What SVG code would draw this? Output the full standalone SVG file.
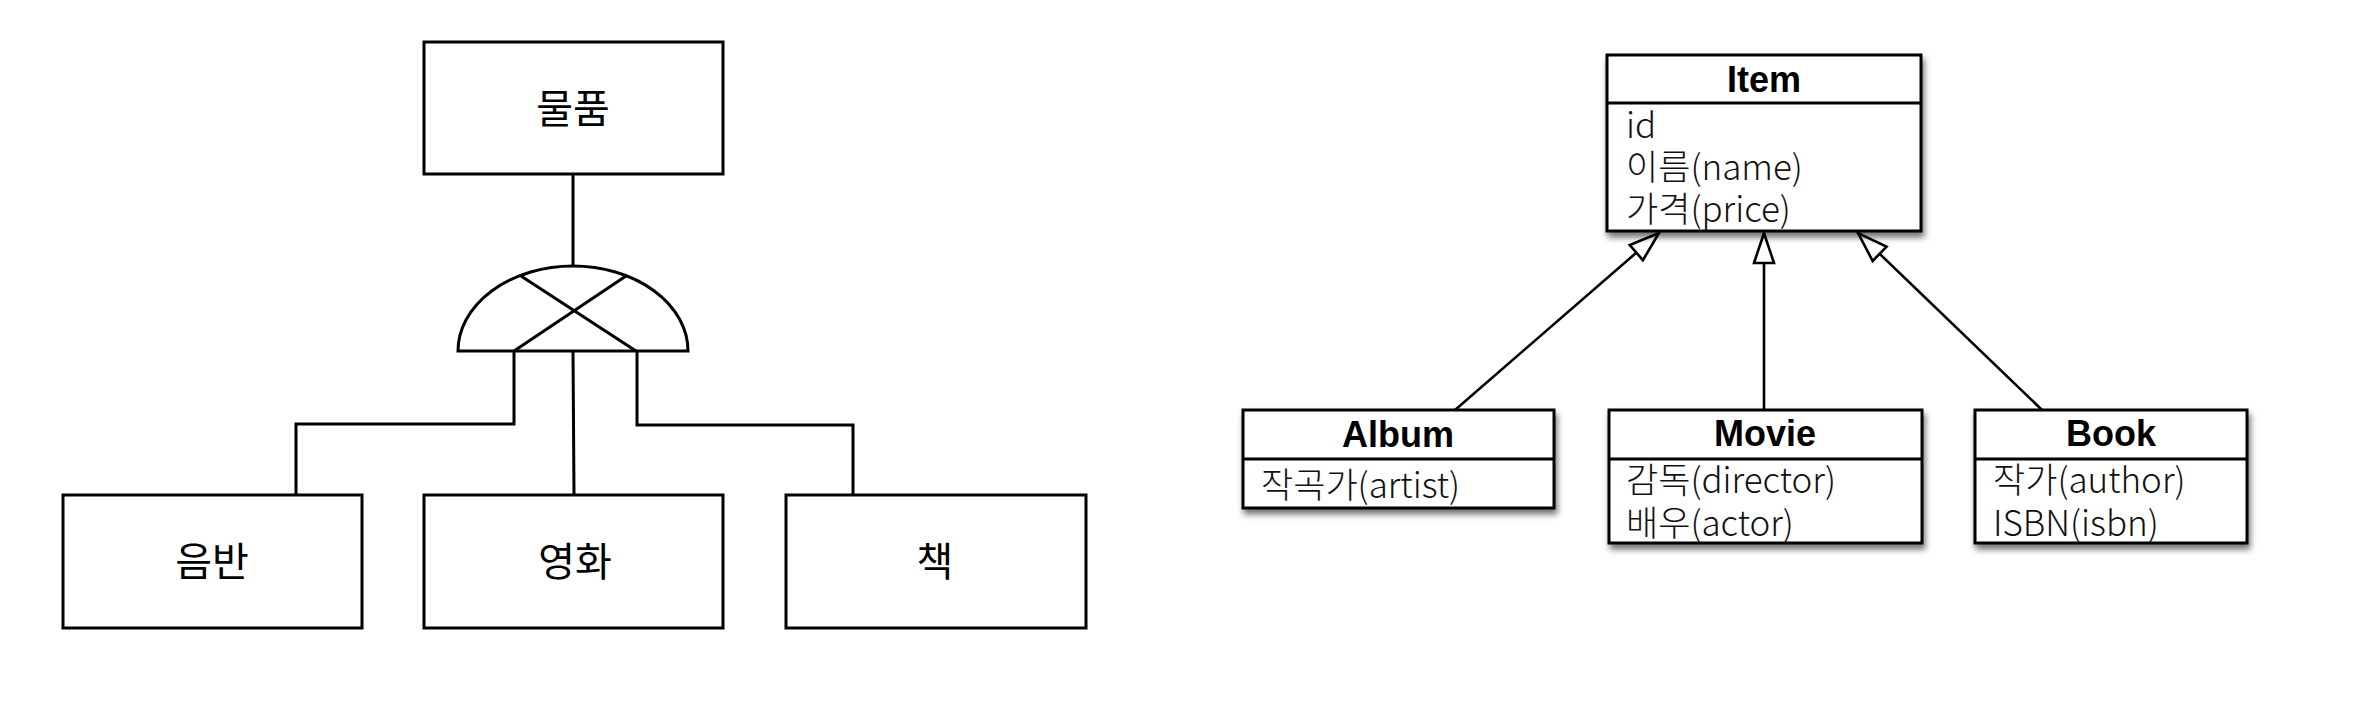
<svg xmlns="http://www.w3.org/2000/svg" width="2360" height="728" viewBox="0 0 2360 728">
  <style>
    .box { fill: #fff; stroke: #000; stroke-width: 3; }
    .line { fill: none; stroke: #000; stroke-width: 3; }
    .conn { fill: none; stroke: #000; stroke-width: 2.6; }
    .kr { font-family: "Noto Sans CJK KR", "Noto Sans", sans-serif; font-size: 40px; fill: #000; text-anchor: middle; }
    .title { font-family: "Liberation Sans", Arial, sans-serif; font-weight: bold; font-size: 36px; fill: #000; text-anchor: middle; }
    .attr { font-family: "Noto Sans CJK KR", "Noto Sans", sans-serif; font-weight: 300; font-size: 35px; fill: #111; }
    .uml { fill: #fff; stroke: #000; stroke-width: 3; }
  </style>
  <defs>
    <filter id="shadow" x="-10%" y="-10%" width="125%" height="140%">
      <feDropShadow dx="2" dy="5" stdDeviation="3" flood-color="#000" flood-opacity="0.55"/>
    </filter>
    <marker id="tri" markerUnits="userSpaceOnUse" markerWidth="40" markerHeight="30" viewBox="-36 -15 40 30" refX="0" refY="0" orient="auto" overflow="visible">
      <path d="M0,0 L-30,-10 L-30,10 Z" fill="#fff" stroke="#000" stroke-width="2.6" stroke-linejoin="miter"/>
    </marker>
  </defs>
  <rect width="2360" height="728" fill="#fff"/>

  <!-- Left: ER diagram -->
  <g id="connectors-left">
    <line class="line" x1="573" y1="175" x2="573" y2="266"/>
    <path class="line" d="M514,351 L514,424 L296,424 L296,495"/>
    <path class="line" d="M573,351 L574,495"/>
    <path class="line" d="M637,351 L637,425 L853,425 L853,495"/>
  </g>
  <g id="gate">
    <path class="line" d="M458,351 A115,85 0 0 1 688,351 Z" fill="#fff"/>
    <line class="line" x1="521" y1="276" x2="636" y2="351"/>
    <line class="line" x1="626" y1="276" x2="514" y2="351"/>
  </g>
  <g id="node-mulpum">
    <rect class="box" x="424" y="42" width="299" height="132"/>
    <text class="kr" x="573" y="123">물품</text>
  </g>
  <g id="node-eumban">
    <rect class="box" x="63" y="495" width="299" height="133"/>
    <text class="kr" x="212" y="576">음반</text>
  </g>
  <g id="node-yeonghwa">
    <rect class="box" x="424" y="495" width="299" height="133"/>
    <text class="kr" x="575" y="576">영화</text>
  </g>
  <g id="node-chaek">
    <rect class="box" x="786" y="495" width="300" height="133"/>
    <text class="kr" x="935" y="576">책</text>
  </g>

  <!-- Right: UML class diagram -->
  <g id="connectors-right">
    <line class="conn" x1="1455" y1="410" x2="1659" y2="233" marker-end="url(#tri)"/>
    <line class="conn" x1="1764" y1="410" x2="1764" y2="233" marker-end="url(#tri)"/>
    <line class="conn" x1="2042" y1="410" x2="1858" y2="233" marker-end="url(#tri)"/>
  </g>
  <g id="node-item">
    <rect class="uml" x="1607" y="55" width="314" height="176" filter="url(#shadow)"/>
    <line class="line" x1="1607" y1="103" x2="1921" y2="103"/>
    <text class="title" x="1764" y="92">Item</text>
    <text class="attr" x="1626" y="138">id</text>
    <text class="attr" x="1626" y="180">이름(name)</text>
    <text class="attr" x="1626" y="222">가격(price)</text>
  </g>
  <g id="node-album">
    <rect class="uml" x="1243" y="410" width="311" height="98" filter="url(#shadow)"/>
    <line class="line" x1="1243" y1="459" x2="1554" y2="459"/>
    <text class="title" x="1398" y="447">Album</text>
    <text class="attr" x="1261" y="498">작곡가(artist)</text>
  </g>
  <g id="node-movie">
    <rect class="uml" x="1609" y="410" width="313" height="133" filter="url(#shadow)"/>
    <line class="line" x1="1609" y1="459" x2="1922" y2="459"/>
    <text class="title" x="1765" y="446">Movie</text>
    <text class="attr" x="1626" y="493">감독(director)</text>
    <text class="attr" x="1626" y="536">배우(actor)</text>
  </g>
  <g id="node-book">
    <rect class="uml" x="1975" y="410" width="272" height="133" filter="url(#shadow)"/>
    <line class="line" x1="1975" y1="459" x2="2247" y2="459"/>
    <text class="title" x="2111" y="446">Book</text>
    <text class="attr" x="1993" y="493">작가(author)</text>
    <text class="attr" x="1993" y="536">ISBN(isbn)</text>
  </g>
</svg>
